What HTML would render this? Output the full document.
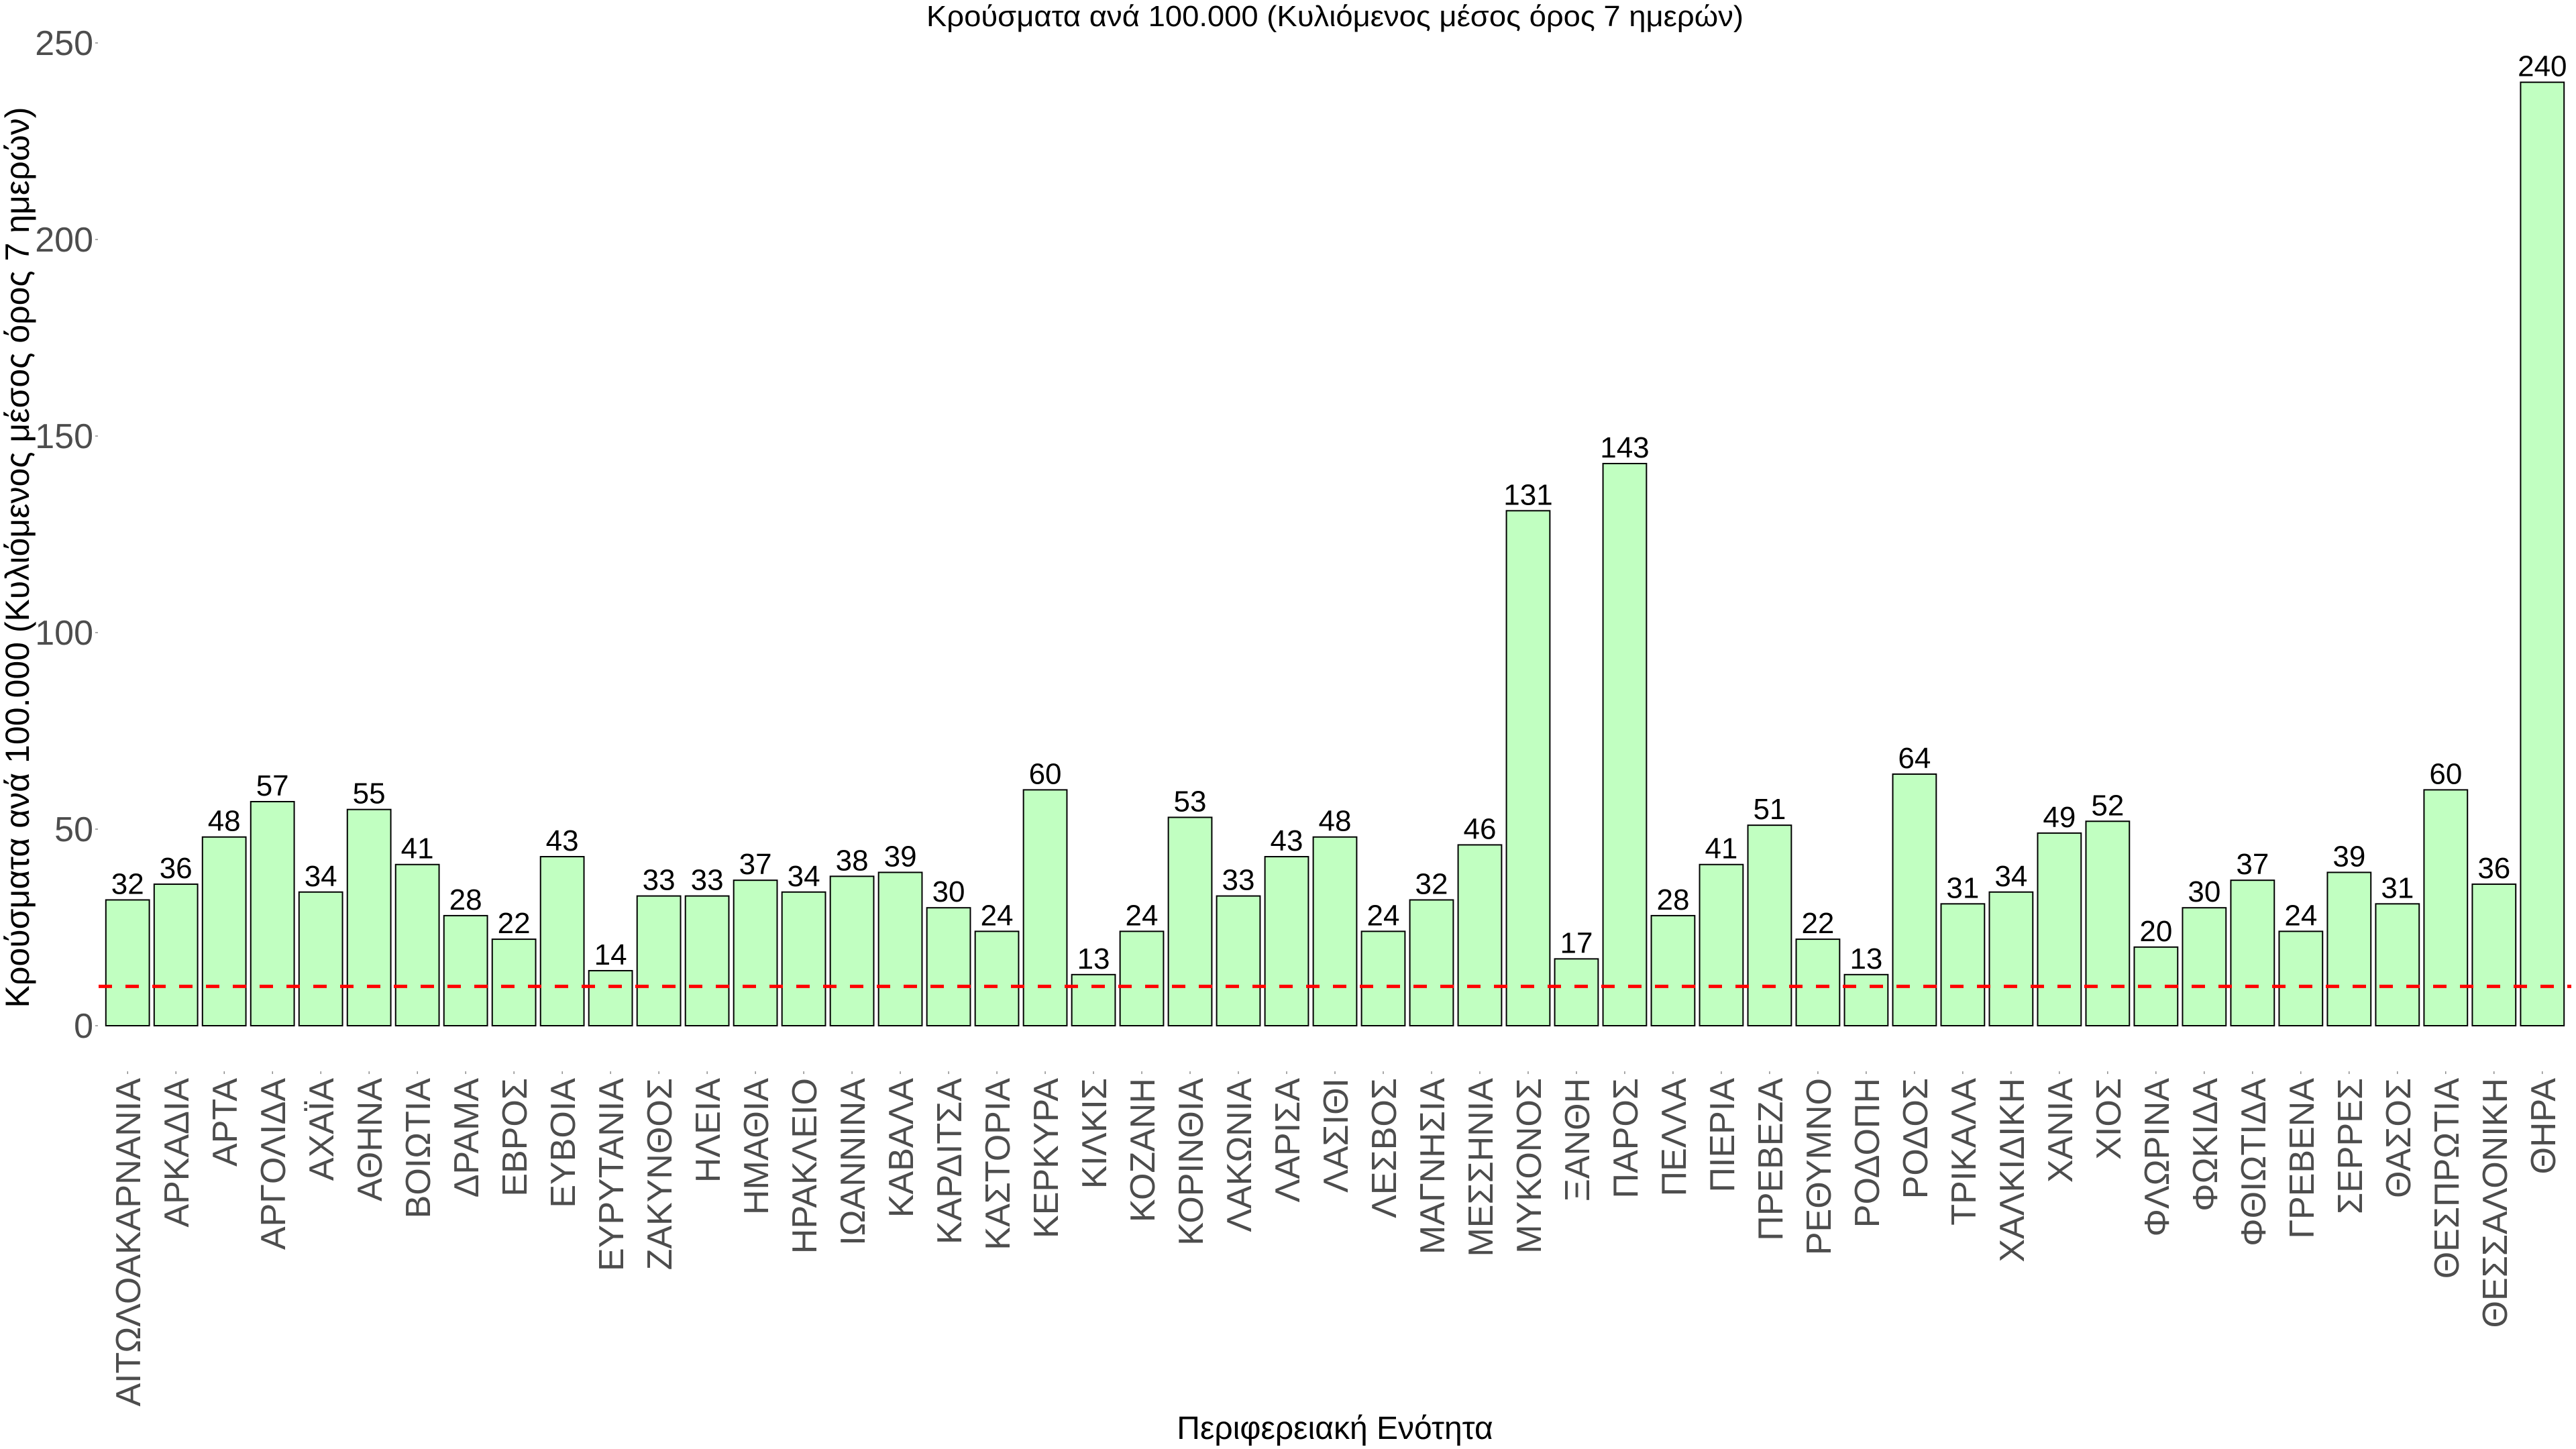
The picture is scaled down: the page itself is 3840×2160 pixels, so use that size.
<!DOCTYPE html>
<html><head><meta charset="utf-8"><style>
html,body{margin:0;padding:0;background:#fff;}
svg{display:block;font-family:"Liberation Sans",Arial,sans-serif;}
</style></head><body>
<svg id="chart" width="3840" height="2160" viewBox="0 0 3840 2160" xmlns="http://www.w3.org/2000/svg">
<text x="1990" y="39" font-size="44" text-anchor="middle" fill="#000" textLength="1218" lengthAdjust="spacingAndGlyphs">Κρούσματα ανά 100.000 (Κυλιόμενος μέσος όρος 7 ημερών)</text>
<text transform="translate(43,831) rotate(-90)" font-size="50" text-anchor="middle" fill="#000" textLength="1343" lengthAdjust="spacingAndGlyphs">Κρούσματα ανά 100.000 (Κυλιόμενος μέσος όρος 7 ημερών)</text>
<text x="1990" y="2145" font-size="48" text-anchor="middle" fill="#000">Περιφερειακή Ενότητα</text>
<g id="yaxis"></g>
<g id="bars"></g>
<g id="refline"></g>
<g id="labels"></g>
<g id="xaxis"></g>
</svg>
<script>
const categories = ["ΑΙΤΩΛΟΑΚΑΡΝΑΝΙΑ","ΑΡΚΑΔΙΑ","ΑΡΤΑ","ΑΡΓΟΛΙΔΑ","ΑΧΑΪΑ","ΑΘΗΝΑ","ΒΟΙΩΤΙΑ","ΔΡΑΜΑ","ΕΒΡΟΣ","ΕΥΒΟΙΑ","ΕΥΡΥΤΑΝΙΑ","ΖΑΚΥΝΘΟΣ","ΗΛΕΙΑ","ΗΜΑΘΙΑ","ΗΡΑΚΛΕΙΟ","ΙΩΑΝΝΙΝΑ","ΚΑΒΑΛΑ","ΚΑΡΔΙΤΣΑ","ΚΑΣΤΟΡΙΑ","ΚΕΡΚΥΡΑ","ΚΙΛΚΙΣ","ΚΟΖΑΝΗ","ΚΟΡΙΝΘΙΑ","ΛΑΚΩΝΙΑ","ΛΑΡΙΣΑ","ΛΑΣΙΘΙ","ΛΕΣΒΟΣ","ΜΑΓΝΗΣΙΑ","ΜΕΣΣΗΝΙΑ","ΜΥΚΟΝΟΣ","ΞΑΝΘΗ","ΠΑΡΟΣ","ΠΕΛΛΑ","ΠΙΕΡΙΑ","ΠΡΕΒΕΖΑ","ΡΕΘΥΜΝΟ","ΡΟΔΟΠΗ","ΡΟΔΟΣ","ΤΡΙΚΑΛΑ","ΧΑΛΚΙΔΙΚΗ","ΧΑΝΙΑ","ΧΙΟΣ","ΦΛΩΡΙΝΑ","ΦΩΚΙΔΑ","ΦΘΙΩΤΙΔΑ","ΓΡΕΒΕΝΑ","ΣΕΡΡΕΣ","ΘΑΣΟΣ","ΘΕΣΠΡΩΤΙΑ","ΘΕΣΣΑΛΟΝΙΚΗ","ΘΗΡΑ"];
const values = [32,36,48,57,34,55,41,28,22,43,14,33,33,37,34,38,39,30,24,60,13,24,53,33,43,48,24,32,46,131,17,143,28,41,51,22,13,64,31,34,49,52,20,30,37,24,39,31,60,36,240];
const yTicks = [0,50,100,150,200,250];
const threshold = [10];

const NS = "http://www.w3.org/2000/svg";
const plotLeft = 147, plotRight = 3833, y0px = 1529, pxPerUnit = 5.86;
const step = (plotRight - plotLeft) / (categories.length - 1 + 1.2);
function xCenter(i){ return plotLeft + step*0.6 + i*step; }
function yPos(v){ return y0px - v*pxPerUnit; }
function mk(tag, attrs, parent){ const e=document.createElementNS(NS,tag); for(const k in attrs) e.setAttribute(k,attrs[k]); parent.appendChild(e); return e; }

const yaxis=document.getElementById('yaxis');
yTicks.forEach(t=>{
  const tk=mk('line',{x1:142,x2:146,y1:yPos(t),y2:yPos(t),stroke:'#555','stroke-width':1},yaxis);
  
  
  const lb=mk('text',{x:139,y:yPos(t)+18,'font-size':52,'text-anchor':'end',fill:'#4d4d4d'},yaxis);
  lb.textContent=t;
  
  
});

const bars=document.getElementById('bars'), labels=document.getElementById('labels'), xaxis=document.getElementById('xaxis');
const bw = step*0.9;
values.forEach((v,i)=>{
  const cx=xCenter(i);
  const r=mk('rect',{x:cx-bw/2,y:yPos(v),width:bw,height:y0px-yPos(v),fill:'#c1ffc1',stroke:'#000','stroke-width':2},bars);
  
  
  const t=mk('text',{x:cx,y:yPos(v)-9,'font-size':44,'text-anchor':'middle',fill:'#000'},labels);
  t.textContent=v;
  
  
  const tk=mk('line',{x1:cx,x2:cx,y1:1597,y2:1601,stroke:'#555','stroke-width':1},xaxis);
  
  
  const xl=mk('text',{transform:`translate(${cx+19},1607) rotate(-90)`,'font-size':52,'text-anchor':'end',fill:'#4d4d4d'},xaxis);
  xl.textContent=categories[i];
  
  
});

const rl=document.getElementById('refline');
threshold.forEach(th=>{
  const l=mk('line',{x1:plotLeft,x2:plotRight,y1:yPos(th),y2:yPos(th),stroke:'#ff0000','stroke-width':5,'stroke-dasharray':'20 20'},rl);
  
  
});
</script>
</body></html>
